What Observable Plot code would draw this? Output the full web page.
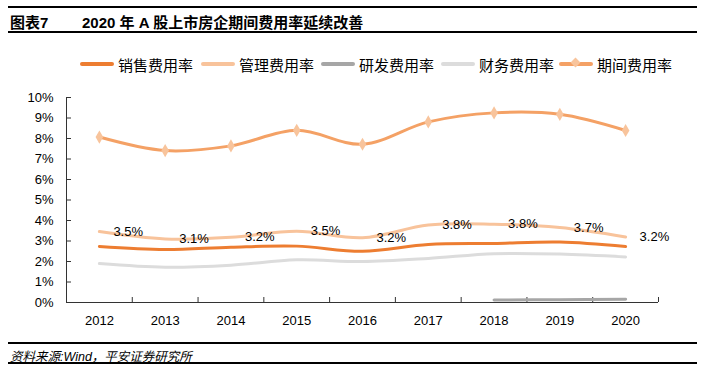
<!DOCTYPE html>
<html><head><meta charset="utf-8">
<script src="https://cdn.jsdelivr.net/npm/d3@7"></script>
<script src="https://cdn.jsdelivr.net/npm/@observablehq/plot@0.6"></script>
<style>
body{margin:0;background:#fff;font-family:"Liberation Sans",Arial,"Noto Sans CJK SC",sans-serif;}
#wrap{position:relative;width:704px;height:372px;overflow:hidden;}
.hr{position:absolute;left:8px;width:689px;background:#000;}
#t1{position:absolute;left:10px;top:11px;font-weight:bold;font-size:15px;font-family:"Liberation Sans",Arial,"Noto Sans CJK SC";}
#t2{position:absolute;left:82px;top:11px;font-weight:bold;font-size:15px;font-family:"Liberation Sans",Arial,"Noto Sans CJK SC";}
.lg{position:absolute;top:54px;height:20px;display:flex;align-items:center;font-size:15px;font-family:"Noto Sans CJK SC",sans-serif;color:#000;}
.lg .sw{position:relative;width:34px;height:4px;margin-right:4px;border-radius:2px;}
.lg .dm{position:absolute;left:13px;top:-3px;width:7px;height:7px;transform:rotate(45deg);}
#src{position:absolute;left:10px;top:346px;font-size:12.5px;font-style:italic;font-family:"Liberation Sans",Arial,"Noto Sans CJK SC";}
#chart{position:absolute;left:0;top:80px;}
</style></head>
<body><div id="wrap">
<div class="hr" style="top:6px;height:2px"></div>
<div id="t1">图表7</div>
<div id="t2">2020 年 A 股上市房企期间费用率延续改善</div>
<div class="hr" style="top:31px;height:2px"></div>
<div id="legend"></div>
<div id="chart"></div>
<div class="hr" style="top:342px;height:2px"></div>
<div id="src">资料来源:Wind，平安证券研究所</div>
<div class="hr" style="top:362px;height:2px"></div>
</div>
<script>
const years = [2012, 2013, 2014, 2015, 2016, 2017, 2018, 2019, 2020];
const sales   = [2.73, 2.58, 2.70, 2.75, 2.50, 2.83, 2.88, 2.95, 2.73];
const mgmt    = [3.46, 3.10, 3.18, 3.48, 3.16, 3.78, 3.82, 3.66, 3.20];
const rnd     = [null, null, null, null, null, null, 0.12, 0.14, 0.16];
const finance = [1.90, 1.72, 1.82, 2.08, 2.00, 2.15, 2.38, 2.36, 2.22];
const period  = [8.07, 7.41, 7.64, 8.40, 7.72, 8.81, 9.25, 9.18, 8.39];
const yTicks  = [0, 1, 2, 3, 4, 5, 6, 7, 8, 9, 10];
const seriesNames = ["销售费用率", "管理费用率", "研发费用率", "财务费用率", "期间费用率"];
const colors = ["#ED7D31", "#F8C39B", "#A6A6A6", "#DCDCDC", "#F4A165"];
const markerColor = "#F8C49C";

const rows = (vals) => years.map((y, i) => ({year: y, v: vals[i]})).filter(d => d.v != null);
const bounds = years.map(y => y - 0.5).concat([years[years.length - 1] + 0.5]);

// legend
const legendLeft = [80, 201, 321, 441, 559];
const lg = document.getElementById("legend");
seriesNames.forEach((n, i) => {
  const d = document.createElement("div");
  d.className = "lg";
  d.style.left = legendLeft[i] + "px";
  d.innerHTML = `<div class="sw" style="background:${colors[i]}">${i === 4 ? `<div class="dm" style="background:${markerColor}"></div>` : ""}</div><span>${n}</span>`;
  lg.appendChild(d);
});

const W = 704, H = 255, mL = 66, mR = 46, mT = 17, mB = 33;
const chart = Plot.plot({
  width: W, height: H,
  marginLeft: mL, marginRight: mR, marginTop: mT, marginBottom: mB,
  style: {fontFamily: '"Liberation Sans", Arial, sans-serif', fontSize: "13px", color: "#000", background: "#fff"},
  x: {type: "linear", domain: [bounds[0], bounds[bounds.length - 1]], axis: null},
  y: {domain: [0, 10], axis: null},
  marks: [
    Plot.axisY({ticks: yTicks, tickSize: 0, tickPadding: 13, tickFormat: d => d + "%", fontSize: 13, fill: "#000", label: null}),
    Plot.axisX({ticks: years, tickSize: 0, tickPadding: 13, tickFormat: d => String(d), fontSize: 13, fill: "#000", label: null}),
    Plot.tickY(yTicks, {y: d => d, stroke: "#333", insetRight: W - mL - mR - 5}),
    Plot.tickX(bounds, {x: d => d, stroke: "#333", insetTop: H - mT - mB - 5}),
    Plot.line(rows(finance), {x: "year", y: "v", stroke: colors[3], strokeWidth: 3, curve: "catmull-rom"}),
    Plot.line(rows(rnd), {x: "year", y: "v", stroke: colors[2], strokeWidth: 3, curve: "catmull-rom"}),
    Plot.line(rows(sales), {x: "year", y: "v", stroke: colors[0], strokeWidth: 3, curve: "catmull-rom"}),
    Plot.line(rows(mgmt), {x: "year", y: "v", stroke: colors[1], strokeWidth: 3, curve: "catmull-rom"}),
    Plot.line(rows(period), {x: "year", y: "v", stroke: colors[4], strokeWidth: 3, curve: "catmull-rom"}),
    Plot.dot(rows(period), {x: "year", y: "v", symbol: "diamond", r: 4, fill: markerColor}),
    Plot.text(rows(mgmt), {x: "year", y: "v", text: d => d.v.toFixed(1) + "%", textAnchor: "start", dx: 14, fontSize: 13, fill: "#000"}),
    Plot.ruleX([bounds[0]], {stroke: "#333"}),
    Plot.ruleY([0], {stroke: "#333"})
  ]
});
document.getElementById("chart").appendChild(chart);
</script>
</body></html>
